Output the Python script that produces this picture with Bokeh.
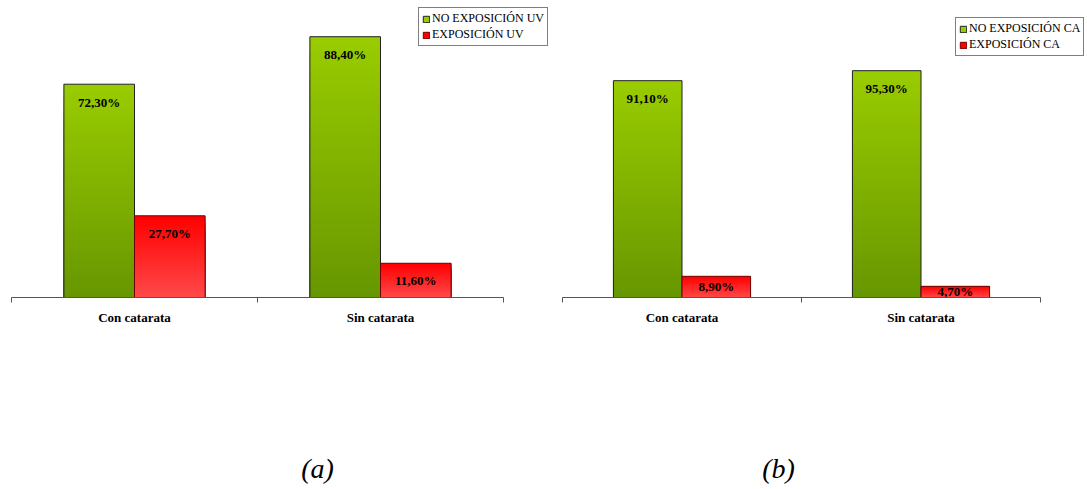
from bokeh.plotting import figure
from bokeh.models import Range1d, FixedTicker, Legend, LegendItem, Label, LinearAxis
from bokeh.embed import file_html
from bokeh.resources import INLINE
from bokeh.core.properties import value

# ---- data ----
categories = ["Con catarata", "Sin catarata"]
uv_no = [72.3, 88.4]
uv_yes = [27.7, 11.6]
ca_no = [91.1, 95.3]
ca_yes = [8.9, 4.7]
legend_a = ["NO EXPOSICIÓN UV", "EXPOSICIÓN UV"]
legend_b = ["NO EXPOSICIÓN CA", "EXPOSICIÓN CA"]
captions = ["(a)", "(b)"]

# ---- style ----
W, H = 1087, 489
BASE_PX = 297                      # pixel row of the baseline (from top)
GREEN_TOP = (153, 204, 0)
GREEN_BOT = (102, 150, 0)
RED_TOP = (255, 0, 0)
RED_BOT = (255, 74, 74)
FONT = "Liberation Serif"
BAR_W = 0.287
N_SLICES = 60


def hexc(c):
    return "#%02x%02x%02x" % tuple(int(round(v)) for v in c)


def fmt(v):
    return ("%.2f" % v).replace(".", ",") + "%"


def xr(left_px, right_px):
    n = len(categories)
    ppu = (right_px - left_px) / n
    return Range1d(-left_px / ppu, (W - left_px) / ppu)


def yr(ppu):
    return Range1d(-(H - BASE_PX) / ppu, BASE_PX / ppu)


p = figure(width=W, height=H, output_backend="svg", toolbar_location=None,
           x_range=xr(11, 503), y_range=yr(2.95),
           x_axis_location=None, y_axis_location=None,
           min_border_left=0, min_border_right=0, min_border_top=0, min_border_bottom=0)
p.extra_x_ranges = {"b": xr(562, 1040)}
p.extra_y_ranges = {"b": yr(2.38)}
p.background_fill_color = "white"
p.border_fill_color = "white"
p.outline_line_color = None
p.xgrid.visible = False
p.ygrid.visible = False


def panel(no_vals, yes_vals, names, caption, rname, ppu, legend_xy, caption_x):
    kw = dict(x_range_name=rname, y_range_name=rname)
    series = [(no_vals, -BAR_W / 2, GREEN_TOP, GREEN_BOT, "#222222"),
              (yes_vals, BAR_W / 2, RED_TOP, RED_BOT, "#700000")]
    items = []
    for (vals, off, ctop, cbot, lc), name in zip(series, names):
        xs = [i + 0.5 + off for i in range(len(categories))]
        # vertical gradient: tallest (top colour) first, shorter darker slices over it
        L, R, B, T, C = [], [], [], [], []
        for x, v in zip(xs, vals):
            for k in range(N_SLICES):
                t = 1 - k / N_SLICES
                col = tuple(cb + (ct - cb) * t for ct, cb in zip(ctop, cbot))
                L.append(x - BAR_W / 2)
                R.append(x + BAR_W / 2)
                B.append(0)
                T.append(v * t)
                C.append(hexc(col))
        fill = p.quad(left=L, right=R, bottom=B, top=T, fill_color=C, line_color=None, **kw)
        edge = p.vbar(x=xs, top=vals, bottom=0, width=BAR_W, fill_color=None,
                      line_color=lc, line_width=1, **kw)
        items.append(LegendItem(label=name, renderers=[fill, edge], index=0))
        offs = [min(18.0, v * ppu / 2) for v in vals]
        p.text(x=xs, y=vals, text=[fmt(v) for v in vals], y_offset=offs,
               text_align="center", text_baseline="middle",
               text_font=value(FONT), text_font_style="bold",
               text_font_size="13px", text_color="black", **kw)

    ax = LinearAxis(x_range_name=rname, y_range_name=rname, fixed_location=0,
                    bounds=(0, len(categories)))
    ax.ticker = FixedTicker(ticks=[i + 0.5 for i in range(len(categories))],
                            minor_ticks=list(range(len(categories) + 1)))
    ax.major_label_overrides = {i + 0.5: c for i, c in enumerate(categories)}
    ax.major_tick_line_color = None
    ax.major_tick_out = 0
    ax.major_tick_in = 0
    ax.minor_tick_in = 0
    ax.minor_tick_out = 5
    ax.minor_tick_line_color = "#555555"
    ax.axis_line_color = "#555555"
    ax.major_label_standoff = 7
    ax.major_label_text_font = FONT
    ax.major_label_text_font_style = "bold"
    ax.major_label_text_font_size = "13px"
    ax.major_label_text_color = "black"
    p.add_layout(ax, "below")

    leg = Legend(items=items, location=legend_xy,
                 label_text_font=FONT, label_text_font_size="12px",
                 label_text_color="black", glyph_width=8, glyph_height=8,
                 label_height=14, label_standoff=2, padding=3, spacing=1, margin=0,
                 border_line_color="black", border_line_width=1,
                 background_fill_color="white", background_fill_alpha=1.0)
    p.add_layout(leg, "center")

    p.add_layout(Label(x=caption_x, y=H - 468, x_units="screen", y_units="screen",
                       text=caption, text_font=FONT, text_font_style="italic",
                       text_font_size="28px", text_color="black",
                       text_align="center", text_baseline="middle"))


panel(uv_no, uv_yes, legend_a, captions[0], "default", 2.95, (418, H - 46), 317)
panel(ca_no, ca_yes, legend_b, captions[1], "b", 2.38, (955, H - 56), 778)

open("out.html", "w").write(file_html(p, INLINE))
